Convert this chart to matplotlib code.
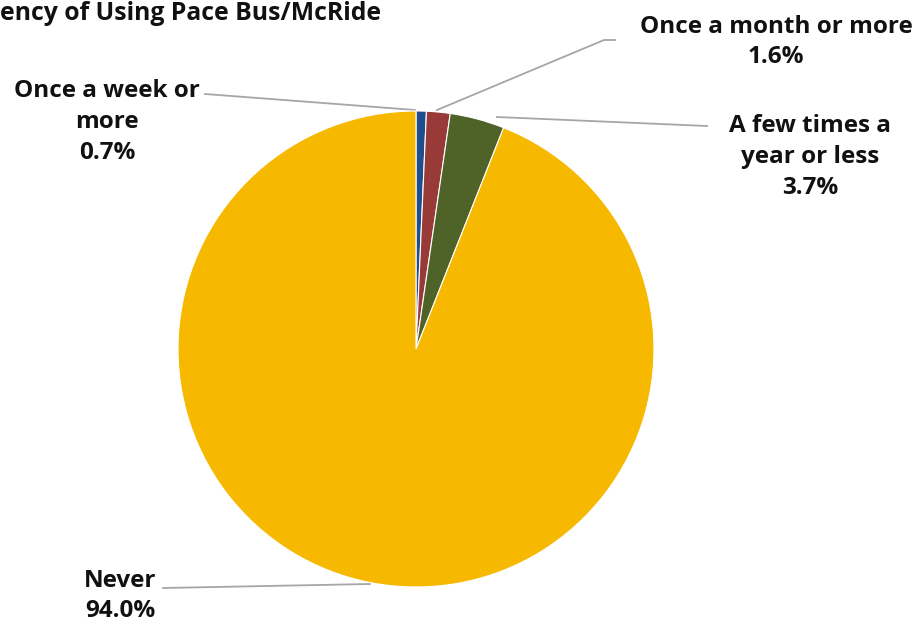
import matplotlib.pyplot as plt

labels = ["Once a week or\nmore", "Once a month or more", "A few times a\nyear or less", "Never"]
shares = [0.7, 1.6, 3.7, 94.0]
colors = ["#1f4e8c", "#983a38", "#4f6228", "#f6b900"]
title = "ency of Using Pace Bus/McRide"

W, H = 919, 625
fig = plt.figure(figsize=(W / 100, H / 100), dpi=100)
ax = fig.add_axes([0, 0, 1, 1])
ax.set_xlim(0, W)
ax.set_ylim(H, 0)
ax.axis("off")

# pie drawn in its own axes so that direction stays clockwise
cx, cy, r = 416, 349, 238
pax = fig.add_axes([(cx - r) / W, 1 - (cy + r) / H, 2 * r / W, 2 * r / H])
pax.pie(shares, colors=colors, startangle=90, counterclock=False,
        wedgeprops=dict(edgecolor="white", linewidth=0.8))
pax.set_aspect("equal")
pax.set_xlim(-1, 1)
pax.set_ylim(-1, 1)
pax.axis("off")

font = dict(family=["Open Sans", "DejaVu Sans"], fontweight="bold", color="#111111")
ax.text(0, 14, title, ha="left", va="center", fontsize=17.8, **font)

line = dict(color="#a6a6a6", lw=1.3)
# leader lines
ax.plot([205, 415], [94, 110], **line)
ax.plot([437, 604, 615], [110, 40, 40], **line)
ax.plot([497, 707], [117, 126], **line)
ax.plot([163, 370], [588, 584], **line)

ls = 1.38
fs = 17.5
ax.text(107, 122, f"{labels[0]}\n{shares[0]:.1f}%", ha="center", va="center", linespacing=ls, fontsize=fs, **font)
ax.text(776, 42, f"{labels[1]}\n{shares[1]:.1f}%", ha="center", va="center", linespacing=ls, fontsize=fs, **font)
ax.text(810, 157, f"{labels[2]}\n{shares[2]:.1f}%", ha="center", va="center", linespacing=ls, fontsize=fs, **font)
ax.text(120, 596, f"{labels[3]}\n{shares[3]:.1f}%", ha="center", va="center", linespacing=ls, fontsize=fs, **font)

fig.savefig("out.png", dpi=100)
